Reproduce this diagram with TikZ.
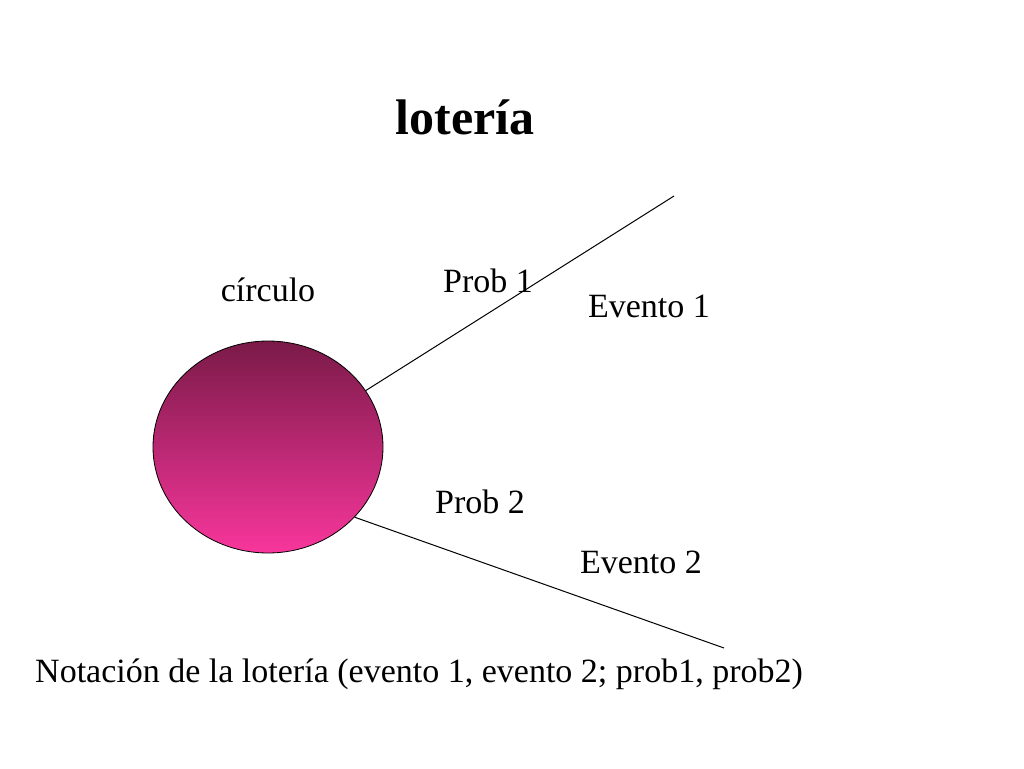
\documentclass[tikz,border=0pt]{standalone}
\usetikzlibrary{shapes.geometric}
\usepackage{fontspec}
\setmainfont{Liberation Serif}
\begin{document}
\begin{tikzpicture}[x=1pt,y=-1pt,
  lbl/.style={font=\fontsize{34}{38}\selectfont, inner sep=0pt},
  conn/.style={draw=black, line width=1pt}]
\useasboundingbox (0,0) rectangle (1024,768);
\definecolor{topc}{HTML}{7A1A48}
\definecolor{midc}{HTML}{C22B6F}
\definecolor{botc}{HTML}{F8369C}
\node[inner sep=0pt, font=\fontsize{50}{54}\selectfont\bfseries] (title) at (465,117) {lotería};
\node[draw=black, line width=0.8pt, ellipse, minimum width=230pt, minimum height=212pt, inner sep=0pt,
  top color=topc, middle color=midc, bottom color=botc] (circ) at (268,447) {};
\coordinate (e1) at (674,196);
\coordinate (e2) at (724,648);
\draw[conn] (circ.30) -- (e1);
\draw[conn] (circ.-39) -- (e2);
\node[lbl] (circlbl) at (268,290) {círculo};
\node[lbl] (p1) at (488,281) {Prob 1};
\node[lbl] (ev1) at (649,306) {Evento 1};
\node[lbl] (p2) at (480,502) {Prob 2};
\node[lbl] (ev2) at (641,562) {Evento 2};
\node[lbl] (nota) at (419,674) {Notación de la lotería (evento 1, evento 2; prob1, prob2)};
\end{tikzpicture}
\end{document}
